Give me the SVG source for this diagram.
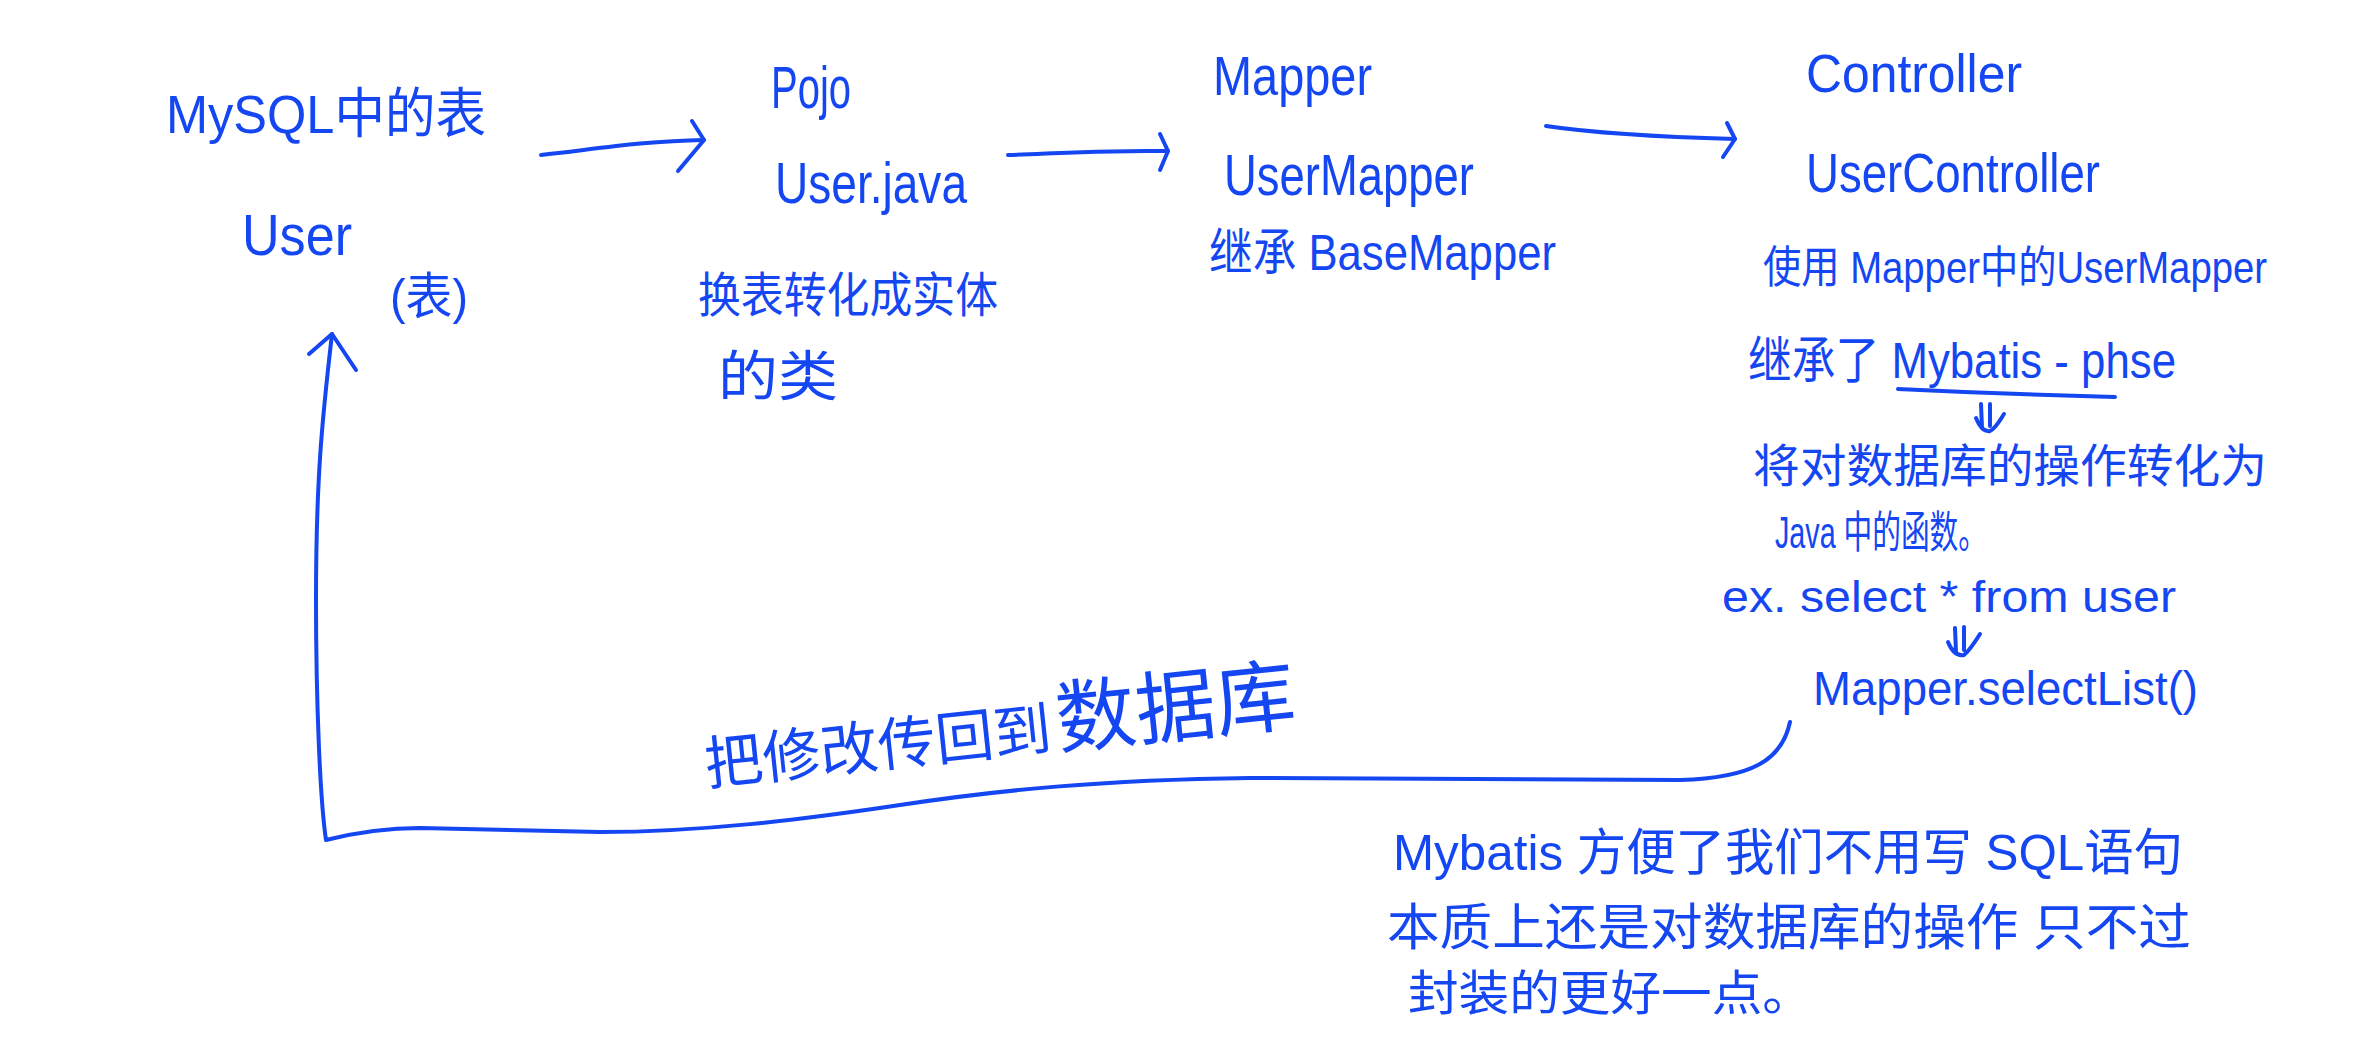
<svg xmlns="http://www.w3.org/2000/svg" width="2369" height="1059" viewBox="0 0 2369 1059">
<style>
  .t { font-family: "Liberation Sans", "Noto Sans CJK SC", sans-serif; fill: #1446f2; }
  .ln { fill: none; stroke: #1446f2; stroke-width: 4; stroke-linecap: round; stroke-linejoin: round; }
</style>
<rect width="2369" height="1059" fill="#ffffff"/>

<g id="node-mysql">
  <text class="t" x="166" y="133" font-size="54" textLength="320" lengthAdjust="spacingAndGlyphs">MySQL中的表</text>
  <text class="t" x="242" y="255" font-size="58" textLength="110" lengthAdjust="spacingAndGlyphs">User</text>
  <text class="t" x="390" y="314" font-size="50" textLength="78" lengthAdjust="spacingAndGlyphs">(表)</text>
</g>

<g id="node-pojo">
  <text class="t" x="771" y="108" font-size="60" textLength="80" lengthAdjust="spacingAndGlyphs">Pojo</text>
  <text class="t" x="775" y="203" font-size="58" textLength="192" lengthAdjust="spacingAndGlyphs">User.java</text>
  <text class="t" x="698" y="312" font-size="48" textLength="300" lengthAdjust="spacingAndGlyphs">换表转化成实体</text>
  <text class="t" x="718" y="396" font-size="54" textLength="120" lengthAdjust="spacingAndGlyphs">的类</text>
</g>

<g id="node-mapper">
  <text class="t" x="1213" y="95" font-size="56" textLength="159" lengthAdjust="spacingAndGlyphs">Mapper</text>
  <text class="t" x="1224" y="195" font-size="58" textLength="250" lengthAdjust="spacingAndGlyphs">UserMapper</text>
  <text class="t" x="1209" y="270" font-size="50" textLength="347" lengthAdjust="spacingAndGlyphs">继承 BaseMapper</text>
</g>

<g id="node-controller">
  <text class="t" x="1806" y="92" font-size="54" textLength="216" lengthAdjust="spacingAndGlyphs">Controller</text>
  <text class="t" x="1806" y="192" font-size="56" textLength="294" lengthAdjust="spacingAndGlyphs">UserController</text>
  <text class="t" x="1763" y="283" font-size="44" textLength="504" lengthAdjust="spacingAndGlyphs">使用 Mapper中的UserMapper</text>
  <text class="t" x="1748" y="378" font-size="50" textLength="428" lengthAdjust="spacingAndGlyphs">继承了 Mybatis - phse</text>
  <text class="t" x="1753" y="482" font-size="46" textLength="514" lengthAdjust="spacingAndGlyphs">将对数据库的操作转化为</text>
  <text class="t" x="1775" y="548" font-size="44" textLength="212" lengthAdjust="spacingAndGlyphs">Java 中的函数。</text>
  <text class="t" x="1722" y="612" font-size="44" textLength="454" lengthAdjust="spacingAndGlyphs">ex. select * from user</text>
  <text class="t" x="1813" y="705" font-size="48" textLength="385" lengthAdjust="spacingAndGlyphs">Mapper.selectList()</text>
</g>

<g id="node-note">
  <text class="t" x="1393" y="870" font-size="50" textLength="790" lengthAdjust="spacingAndGlyphs">Mybatis 方便了我们不用写 SQL语句</text>
  <text class="t" x="1387" y="945" font-size="50" textLength="804" lengthAdjust="spacingAndGlyphs">本质上还是对数据库的操作 只不过</text>
  <text class="t" x="1408" y="1010" font-size="48" textLength="405" lengthAdjust="spacingAndGlyphs">封装的更好一点。</text>
</g>

<g id="label-return">
  <text class="t" transform="rotate(-6 707 785)" x="707" y="785"><tspan font-size="58">把修改传回到</tspan><tspan font-size="80" dx="6">数据库</tspan></text>
</g>

<g id="connectors">
  <!-- MySQL -> Pojo -->
  <path class="ln" d="M541,155 C590,150 640,141 704,140"/>
  <path class="ln" d="M692,121 L704,140 L678,171"/>
  <!-- Pojo -> Mapper -->
  <path class="ln" d="M1008,155 C1050,154 1080,150 1168,151"/>
  <path class="ln" d="M1160,134 L1168,151 L1160,170"/>
  <!-- Mapper -> Controller -->
  <path class="ln" d="M1546,126 C1600,134 1660,137 1735,139"/>
  <path class="ln" d="M1727,123 L1735,139 L1723,157"/>
  <!-- underline -->
  <path class="ln" d="M1898,389 C1960,392 2040,395 2115,397"/>
  <!-- small double arrows -->
  <path class="ln" d="M1981,404 L1982,428 M1990,404 L1990,426 M1976,418 C1980,428 1985,432 1990,431 C1996,428 2000,420 2004,414"/>
  <path class="ln" d="M1955,628 L1956,652 M1964,627 L1964,650 M1948,642 C1952,652 1958,656 1964,655 C1970,650 1975,642 1980,634"/>
  <!-- return loop -->
  <path class="ln" d="M1790,722 C1782,760 1752,778 1680,780 L1250,778 C1100,780 1000,790 900,805 C800,820 700,832 600,832 L420,828 C380,828 350,834 326,840 C320,800 316,700 316,600 C316,480 322,420 332,334"/>
  <path class="ln" d="M309,354 L332,334 L356,370"/>
</g>
</svg>
